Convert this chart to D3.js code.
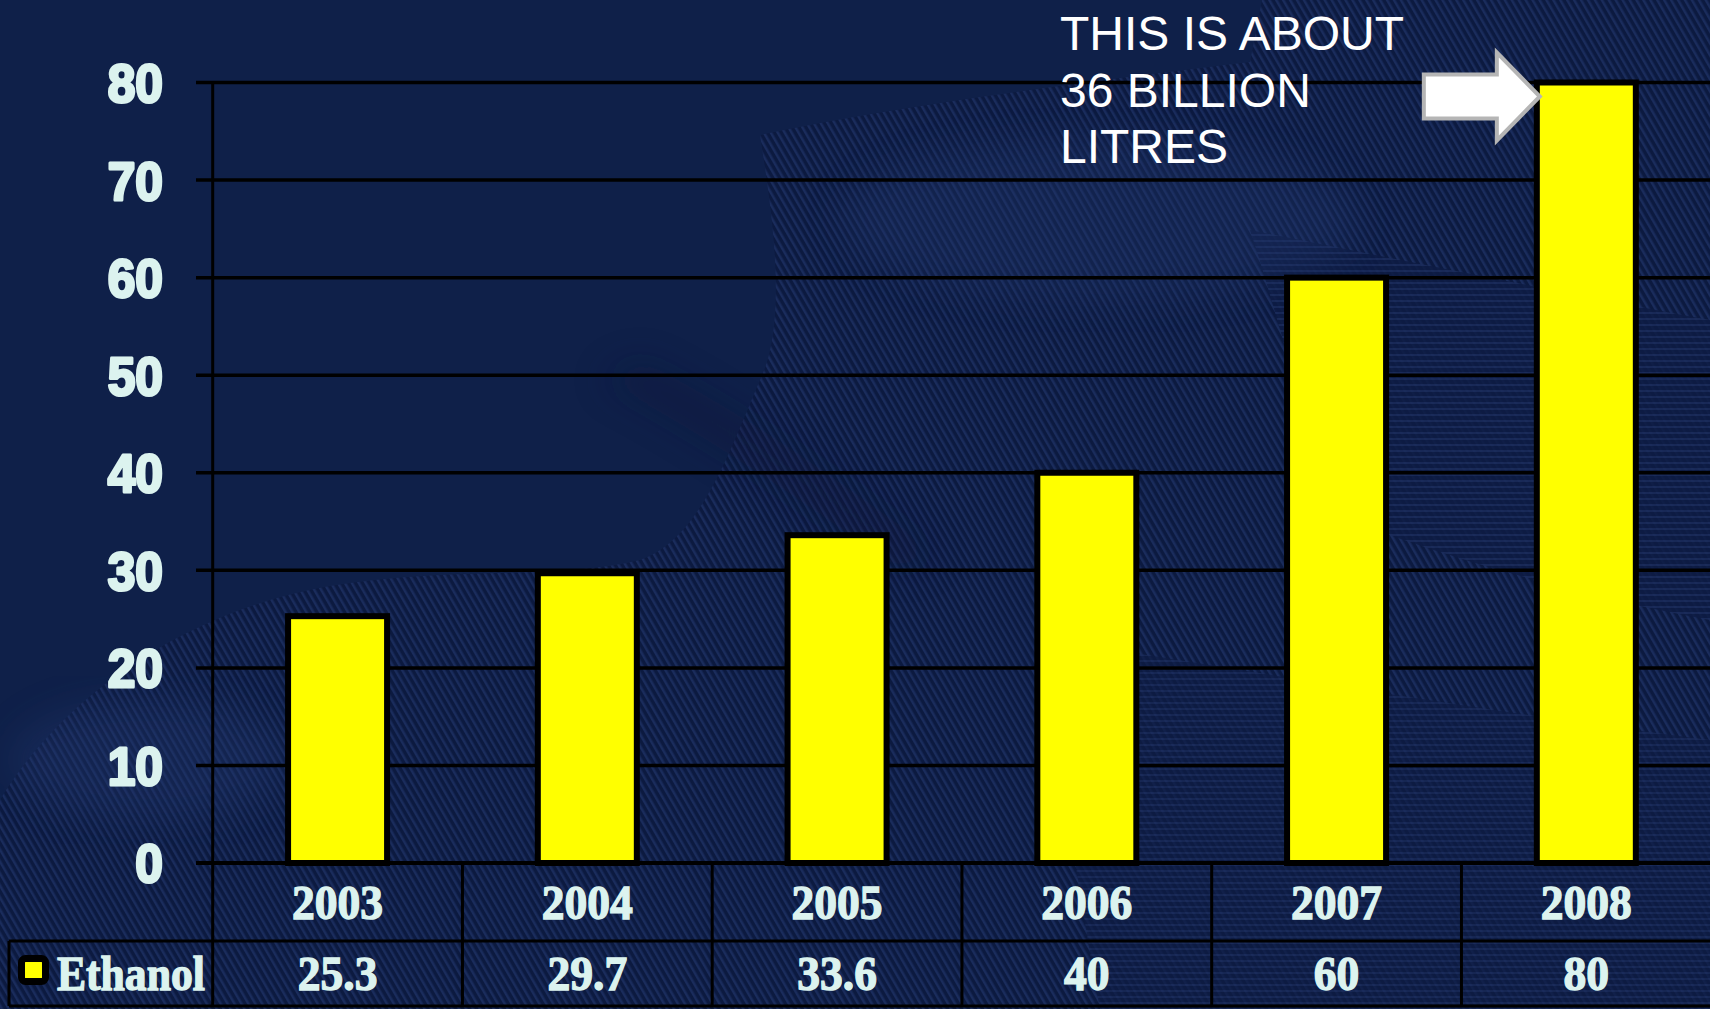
<!DOCTYPE html>
<html>
<head>
<meta charset="utf-8">
<script src="https://cdn.jsdelivr.net/npm/d3@7/dist/d3.min.js"></script>
<style>
  html, body { margin: 0; padding: 0; background: #0f2049; overflow: hidden; }
  svg { display: block; }
</style>
</head>
<body>
<svg id="chart" width="1710" height="1009"></svg>
<script>
// ---- data ----
const years = ["2003", "2004", "2005", "2006", "2007", "2008"];
const ethanol = [25.3, 29.7, 33.6, 40, 60, 80];
const valueLabels = ["25.3", "29.7", "33.6", "40", "60", "80"];
const yTicks = [0, 10, 20, 30, 40, 50, 60, 70, 80];
const seriesName = "Ethanol";
const annotationLines = ["THIS IS ABOUT", "36 BILLION", "LITRES"];

// ---- layout ----
const W = 1710, H = 1009;
const svg = d3.select("#chart");
const plotLeft = 212.7, colStep = 249.75;
const yZero = 863, yTop = 82.5;
const rowMid = 941, rowBottom = 1006, tableLeft = 9;
const textColor = "#dcf3ef";

const x = d3.scaleBand().domain(years).range([plotLeft, plotLeft + colStep * years.length]).padding(0);
const y = d3.scaleLinear().domain([0, 80]).range([yZero, yTop]);

// ---- background ----
const defs = svg.append("defs");
const pat = defs.append("pattern").attr("id", "hatch").attr("patternUnits", "userSpaceOnUse")
  .attr("width", 6).attr("height", 6).attr("patternTransform", "rotate(-30)");
pat.append("rect").attr("width", 6).attr("height", 6).attr("fill", "#0c1a40");
pat.append("rect").attr("width", 2.5).attr("height", 6).attr("fill", "#1a2c5c");

const pat2 = defs.append("pattern").attr("id", "hatchH").attr("patternUnits", "userSpaceOnUse")
  .attr("width", 8).attr("height", 6);
pat2.append("rect").attr("width", 8).attr("height", 6).attr("fill", "#0d1b43");
pat2.append("rect").attr("width", 8).attr("height", 2).attr("fill", "#1a2b5a");

const blur = defs.append("filter").attr("id", "blur").attr("x", "-20%").attr("y", "-20%").attr("width", "140%").attr("height", "140%");
blur.append("feGaussianBlur").attr("stdDeviation", 18);

svg.append("rect").attr("width", W).attr("height", H).attr("fill", "#0f2049");

// textured surfaces
svg.append("path")
  .attr("d", "M 760,135 C 900,105 1100,80 1250,62 L 1262,0 L 1710,0 L 1710,1009 L 0,1009 L 0,800 C 60,700 180,612 330,586 C 450,566 560,580 640,560 C 700,540 730,450 760,380 C 790,320 770,200 760,135 Z")
  .attr("fill", "url(#hatch)");
svg.append("path")
  .attr("d", "M 1250,230 C 1400,260 1600,300 1710,320 L 1710,620 C 1600,600 1450,560 1350,520 C 1300,420 1280,320 1250,230 Z")
  .attr("fill", "url(#hatchH)").attr("opacity", 0.85);
svg.append("path")
  .attr("d", "M 1040,640 C 1200,660 1400,700 1710,740 L 1710,1009 L 1100,1009 C 1080,900 1060,760 1040,640 Z")
  .attr("fill", "url(#hatchH)").attr("opacity", 0.7);
// lighter glow patches
svg.append("ellipse").attr("cx", 1100).attr("cy", 220).attr("rx", 260).attr("ry", 80)
  .attr("fill", "#22386e").attr("opacity", 0.3).attr("filter", "url(#blur)");
svg.append("ellipse").attr("cx", 150).attr("cy", 760).attr("rx", 140).attr("ry", 60)
  .attr("fill", "#22386e").attr("opacity", 0.35).attr("filter", "url(#blur)");
// subtle darker diagonal band
svg.append("path")
  .attr("d", "M 600,380 C 700,430 800,500 900,570 L 940,555 C 840,480 740,410 640,360 Z")
  .attr("fill", "#0a1639").attr("opacity", 0.35).attr("filter", "url(#blur)");

// ---- gridlines ----
svg.append("g").selectAll("line").data(yTicks).join("line")
  .attr("x1", 196).attr("x2", W)
  .attr("y1", d => y(d)).attr("y2", d => y(d))
  .attr("stroke", "#000").attr("stroke-width", 3.5);

// y axis vertical line (through table)
svg.append("line").attr("x1", plotLeft).attr("x2", plotLeft).attr("y1", y(80)).attr("y2", rowBottom)
  .attr("stroke", "#000").attr("stroke-width", 3);

// y tick labels
const yl = svg.append("g").selectAll("text").data(yTicks).join("text")
  .attr("x", 163).attr("y", d => y(d)).attr("dy", "0.36em")
  .attr("text-anchor", "end")
  .attr("font-family", "'Liberation Sans', Arial, sans-serif")
  .attr("font-weight", "bold").attr("font-size", 54)
  .attr("fill", textColor).attr("stroke", textColor).attr("stroke-width", 3).attr("stroke-linejoin", "round")
  .text(d => d);
yl.each(function () { const l = this.getComputedTextLength(); d3.select(this).attr("textLength", l * 0.92).attr("lengthAdjust", "spacingAndGlyphs"); });

// ---- bars ----
const barW = 99;
svg.append("g").selectAll("rect").data(years).join("rect")
  .attr("x", d => x(d) + (x.bandwidth() - barW) / 2)
  .attr("y", (d, i) => y(ethanol[i]))
  .attr("width", barW)
  .attr("height", (d, i) => y(0) - y(ethanol[i]))
  .attr("fill", "#ffff00").attr("stroke", "#000").attr("stroke-width", 6);

// redraw zero line on top
svg.append("line").attr("x1", 196).attr("x2", W).attr("y1", y(0)).attr("y2", y(0))
  .attr("stroke", "#000").attr("stroke-width", 4);

// ---- data table ----
const tbl = svg.append("g").attr("stroke", "#000").attr("stroke-width", 3);
tbl.append("line").attr("x1", tableLeft).attr("x2", W).attr("y1", rowMid).attr("y2", rowMid);
tbl.append("line").attr("x1", tableLeft).attr("x2", W).attr("y1", rowBottom).attr("y2", rowBottom);
tbl.append("line").attr("x1", tableLeft).attr("x2", tableLeft).attr("y1", rowMid).attr("y2", rowBottom);
tbl.selectAll("line.col").data(years.slice(1)).join("line").attr("class", "col")
  .attr("x1", d => x(d)).attr("x2", d => x(d)).attr("y1", yZero).attr("y2", rowBottom);

const serif = "'Liberation Serif', 'Times New Roman', serif";
const yrs = svg.append("g").selectAll("text").data(years).join("text")
  .attr("x", d => x(d) + x.bandwidth() / 2).attr("y", 919)
  .attr("text-anchor", "middle").attr("font-family", serif).attr("font-weight", "bold")
  .attr("font-size", 49).attr("fill", textColor).attr("stroke", textColor).attr("stroke-width", 1.4)
  .text(d => d);
yrs.each(function () { const l = this.getComputedTextLength(); d3.select(this).attr("textLength", l * 0.93).attr("lengthAdjust", "spacingAndGlyphs"); });

const vals = svg.append("g").selectAll("text").data(years).join("text")
  .attr("x", d => x(d) + x.bandwidth() / 2).attr("y", 990)
  .attr("text-anchor", "middle").attr("font-family", serif).attr("font-weight", "bold")
  .attr("font-size", 49).attr("fill", textColor).attr("stroke", textColor).attr("stroke-width", 1.4)
  .text((d, i) => valueLabels[i]);
vals.each(function () { const l = this.getComputedTextLength(); d3.select(this).attr("textLength", l * 0.93).attr("lengthAdjust", "spacingAndGlyphs"); });

// legend key
svg.append("rect").attr("x", 21.5).attr("y", 958.5).attr("width", 24).attr("height", 23)
  .attr("rx", 4).attr("fill", "#ffff00").attr("stroke", "#000").attr("stroke-width", 7);
const leg = svg.append("text").attr("x", 57).attr("y", 990)
  .attr("font-family", serif).attr("font-weight", "bold").attr("font-size", 49)
  .attr("fill", textColor).attr("stroke", textColor).attr("stroke-width", 1.4)
  .text(seriesName);
leg.attr("textLength", leg.node().getComputedTextLength() * 0.89).attr("lengthAdjust", "spacingAndGlyphs");

// ---- annotation ----
svg.append("g").selectAll("text").data(annotationLines).join("text")
  .attr("x", 1060).attr("y", (d, i) => 50 + i * 56.5)
  .attr("font-family", "'Liberation Sans', Arial, sans-serif").attr("font-size", 48)
  .attr("fill", "#ffffff").text(d => d);

// arrow pointing at the 2008 bar
const ax = x("2008") + (x.bandwidth() - barW) / 2 + 3; // tip just left of bar
const ay = y(80) + 14;
const arrow = [[ax - 116, ay - 22], [ax - 43, ay - 22], [ax - 43, ay - 44], [ax, ay], [ax - 43, ay + 44], [ax - 43, ay + 22], [ax - 116, ay + 22]];
svg.append("polygon").attr("points", arrow.map(p => p.join(",")).join(" "))
  .attr("fill", "#ffffff").attr("stroke", "#b5b5b5").attr("stroke-width", 4).attr("stroke-linejoin", "miter");
</script>
</body>
</html>
